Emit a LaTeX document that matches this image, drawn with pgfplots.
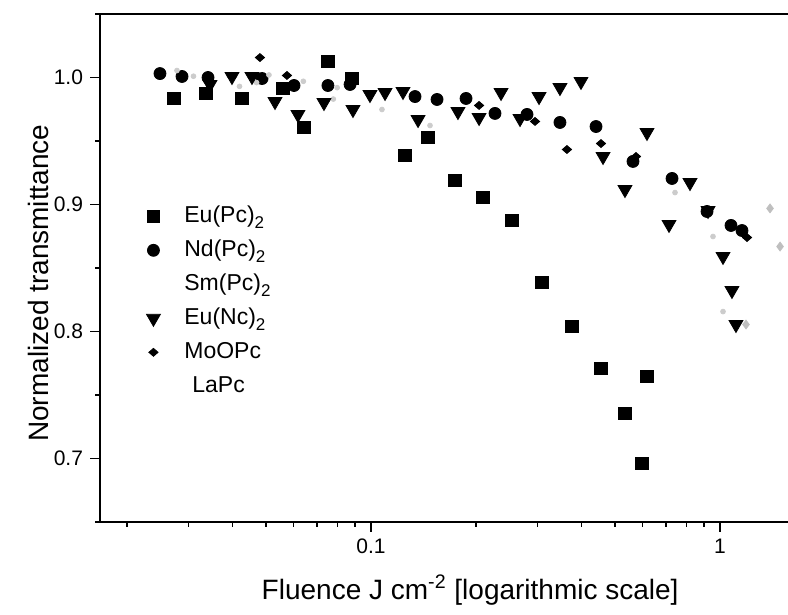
\documentclass[border=0pt]{standalone}
\usepackage{pgfplots}
\pgfplotsset{compat=1.18}
\usepackage{fontspec}
\setmainfont{Liberation Sans}
\newcommand{\sub}[1]{\raisebox{-3pt}{\fontsize{8.5}{9}\selectfont #1}}
\begin{document}
\begin{tikzpicture}
\begin{axis}[
  at={(0,0)}, anchor=south west,
  scale only axis, width=344pt, height=254pt,
  xmode=log, xmin=0.01673, xmax=1.566,
  ymin=0.65, ymax=1.05,
  axis lines*=left,
  axis line style={line width=1pt},
  tick align=outside,
  major tick length=5pt, minor tick length=2.5pt,
  every tick/.style={black, line width=0.6pt},
  xtick={0.1,1}, xticklabels={0.1,1},
  minor xtick={0.02,0.03,0.04,0.05,0.06,0.07,0.08,0.09,0.2,0.3,0.4,0.5,0.6,0.7,0.8,0.9},
  ytick={0.7,0.8,0.9,1.0}, yticklabels={0.7,0.8,0.9,1.0},
  minor ytick={0.65,0.75,0.85,0.95,1.05},
  tick label style={font=\fontsize{10.5}{12}\selectfont},
  xlabel={Fluence J cm\textsuperscript{-2} [logarithmic scale]},
  ylabel={Normalized transmittance},
  label style={font=\fontsize{14}{16}\selectfont},
  xlabel style={at={(axis description cs:0.538,-0.152)}, anchor=base},
  ylabel style={at={(axis description cs:-0.090,0.47)}, anchor=center},
  legend style={at={(axis description cs:0.0523,0.634)}, anchor=north west,
    draw=none, fill=none, inner sep=0pt, row sep=1pt, column sep=10pt,
    font=\fontsize{11.5}{13}\selectfont,
    nodes={text height=9pt, text depth=3pt, inner sep=2pt}},
  legend cell align=left,
]
\addplot[only marks, mark=square*, mark size=3.1pt, black] coordinates {
(0.02726,0.9835) (0.03367,0.9874) (0.04271,0.9835) (0.05596,0.9913)
(0.06427,0.9606) (0.07527,1.0126) (0.08822,0.9992) (0.1252,0.9386)
(0.1457,0.9528) (0.1741,0.9189) (0.2094,0.9055) (0.2535,0.8874)
(0.3090,0.8386) (0.3766,0.8039) (0.4560,0.7709) (0.5342,0.7354)
(0.5976,0.6961) (0.6177,0.7646)};
\addlegendentry{Eu(Pc)\sub{2}}
\addplot[only marks, mark=*, mark size=3pt, black] coordinates {
(0.02485,1.0031) (0.02874,1.0008) (0.03412,1.0000) (0.04873,0.9992)
(0.06017,0.9937) (0.07527,0.9937) (0.08709,0.9945) (0.1337,0.9850)
(0.1546,0.9827) (0.1872,0.9835) (0.2266,0.9717) (0.2799,0.9709)
(0.3479,0.9646) (0.4413,0.9614) (0.5632,0.9339) (0.7287,0.9205)
(0.9178,0.8945) (1.0752,0.8835) (1.156,0.8795)};
\addlegendentry{Nd(Pc)\sub{2}}
\addplot[only marks, mark=*, mark size=1.2pt, gray!40, legend image code/.code={}] coordinates {
(0.0278,1.0055) (0.0310,1.0010) (0.0345,0.9950) (0.0420,0.9930)
(0.0470,0.9960) (0.0510,1.0020) (0.0640,0.9970) (0.0780,0.9830)
(0.0800,0.9920) (0.1075,0.9748) (0.1476,0.9622) (0.7432,0.9094)
(0.9548,0.8748) (1.020,0.8157)};
\addlegendentry{Sm(Pc)\sub{2}}
\addplot[only marks, mark=triangle*, mark size=4pt, mark options={rotate=180}, black] coordinates {
(0.03457,0.9945) (0.03997,1.0008) (0.04560,1.0008) (0.05308,0.9811)
(0.06176,0.9709) (0.07333,0.9803) (0.08879,0.9748) (0.09933,0.9866)
(0.1097,0.9882) (0.1235,0.9890) (0.1364,0.9669) (0.1775,0.9732)
(0.2040,0.9685) (0.2358,0.9882) (0.2673,0.9677) (0.3030,0.9850)
(0.3479,0.9921) (0.3997,0.9969) (0.4622,0.9378) (0.5342,0.9118)
(0.6177,0.9567) (0.7144,0.8843) (0.8203,0.9173) (0.9240,0.8953)
(1.020,0.8591) (1.082,0.8323) (1.111,0.8055)};
\addlegendentry{Eu(Nc)\sub{2}}
\addplot[only marks, mark=diamond*, mark size=2.2pt, mark options={xscale=1.4, yscale=0.9}, black] coordinates {
(0.04806,1.0157) (0.05744,1.0016) (0.03997,1.0008) (0.2040,0.9780)
(0.2951,0.9654) (0.3643,0.9433) (0.4560,0.9480) (0.5744,0.9378)
(1.195,0.8740)};
\addlegendentry{MoOPc}
\addplot[only marks, mark=diamond*, mark size=2.2pt, gray!50, legend image code/.code={}] coordinates {
(1.391,0.8969) (1.486,0.8669) (1.187,0.8055)};
\addlegendentry{\hspace{4pt}LaPc}
\draw[line width=1pt] (rel axis cs:0,1) -- (rel axis cs:1,1);
\end{axis}
\pgfresetboundingbox
\path[use as bounding box] (-50pt,-46.5pt) rectangle (344pt,261pt);
\end{tikzpicture}
\end{document}
